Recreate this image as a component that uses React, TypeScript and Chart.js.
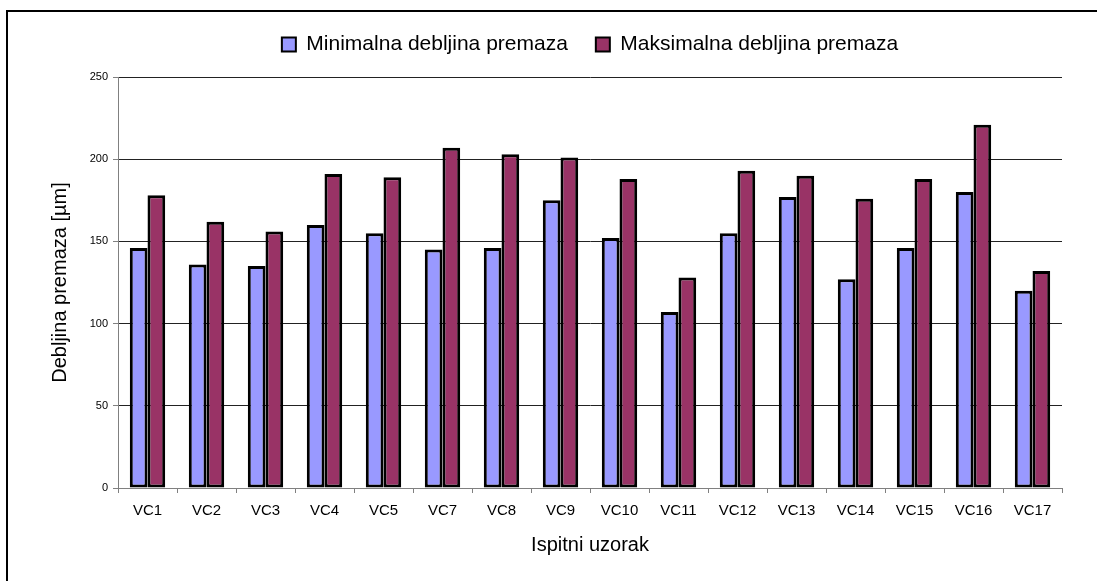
import React, { useEffect, useRef } from "react";
import { Chart, registerables } from "chart.js";

Chart.register(...registerables);

const categories = ["VC1", "VC2", "VC3", "VC4", "VC5", "VC7", "VC8", "VC9", "VC10", "VC11", "VC12", "VC13", "VC14", "VC15", "VC16", "VC17"];
const minThickness = [146, 136, 135, 160, 155, 145, 146, 175, 152, 107, 155, 177, 127, 146, 180, 120];
const maxThickness = [178, 162, 156, 191, 189, 207, 203, 201, 188, 128, 193, 190, 176, 188, 221, 132];
const yTickValues = [0, 50, 100, 150, 200, 250];
const seriesNames = ["Minimalna debljina premaza", "Maksimalna debljina premaza"];
const xTitle = "Ispitni uzorak";
const yTitle = "Debljina premaza [µm]";

const FONT = "'Liberation Sans', Arial, sans-serif";

const legendSpacer = {
  id: "legendSpacer",
  beforeInit(chart: any) {
    const legend = chart.legend;
    if (!legend) return;
    const orig = legend.fit;
    legend.fit = function () {
      orig.call(this);
      this.height += 12;
    };
  },
};

export default function App() {
  const canvasRef = useRef<HTMLCanvasElement | null>(null);

  useEffect(() => {
    const canvas = canvasRef.current;
    if (!canvas) return;
    const chart = new Chart(canvas, {
      type: "bar",
      data: {
        labels: categories,
        datasets: [
          {
            label: seriesNames[0],
            data: minThickness,
            backgroundColor: "#9999FF",
            borderColor: "#000000",
            borderWidth: 3,
            borderSkipped: false,
            categoryPercentage: 0.6,
            barPercentage: 1,
          },
          {
            label: seriesNames[1],
            data: maxThickness,
            backgroundColor: "#993366",
            borderColor: "#000000",
            borderWidth: 3,
            borderSkipped: false,
            categoryPercentage: 0.6,
            barPercentage: 1,
          },
        ],
      },
      options: {
        responsive: false,
        animation: false,
        layout: { padding: { left: 0, right: 35, top: 6, bottom: 0 } },
        plugins: {
          tooltip: { enabled: false },
          legend: {
            display: true,
            position: "top",
            fullSize: false,
            labels: {
              boxWidth: 14,
              boxHeight: 14,
              padding: 28,
              color: "#000",
              font: { family: FONT, size: 21 },
              generateLabels: (chart: any) => {
                const items = Chart.defaults.plugins.legend.labels.generateLabels(chart);
                items.forEach((it: any) => {
                  it.lineWidth = 2;
                });
                return items;
              },
            },
          },
        },
        scales: {
          x: {
            grid: {
              display: true,
              drawOnChartArea: false,
              drawTicks: true,
              tickLength: 5,
              color: "#808080",
              offset: true,
            },
            border: { display: true, color: "#808080", width: 1 },
            ticks: {
              color: "#000",
              font: { family: FONT, size: 15 },
              padding: 9,
              maxRotation: 0,
              autoSkip: false,
            },
            title: {
              display: true,
              text: xTitle,
              color: "#000",
              font: { family: FONT, size: 20 },
              padding: { top: 0, bottom: 24 },
            },
            afterFit: (scale: any) => {
              scale.height = 93;
            },
          },
          y: {
            min: 0,
            max: 250,
            grid: {
              display: true,
              drawOnChartArea: true,
              drawTicks: true,
              tickLength: 5,
              color: "#222222",
              tickColor: "#808080",
              lineWidth: 1,
            },
            border: { display: true, color: "#808080", width: 1 },
            afterBuildTicks: (scale: any) => {
              scale.ticks = yTickValues.map((v) => ({ value: v }));
            },
            ticks: {
              color: "#000",
              font: { family: FONT, size: 11 },
              padding: 5,
            },
            title: {
              display: true,
              text: yTitle,
              color: "#000",
              font: { family: FONT, size: 20 },
              padding: { top: 48, bottom: 0 },
            },
            afterFit: (scale: any) => {
              scale.width = 118;
            },
          },
        },
      },
      plugins: [legendSpacer],
    } as any);
    return () => chart.destroy();
  }, []);

  return (
    <div
      style={{
        position: "fixed",
        left: 0,
        top: 0,
        width: 1097,
        height: 581,
        background: "#fff",
        overflow: "hidden",
      }}
    >
      <div
        style={{
          position: "absolute",
          left: 6,
          top: 10,
          width: 1200,
          height: 700,
          borderTop: "2px solid #000",
          borderLeft: "2px solid #000",
          boxSizing: "border-box",
        }}
      />
      <canvas
        ref={canvasRef}
        width={1097}
        height={581}
        style={{ position: "absolute", left: 0, top: 0, width: 1097, height: 581, display: "block" }}
      />
    </div>
  );
}
